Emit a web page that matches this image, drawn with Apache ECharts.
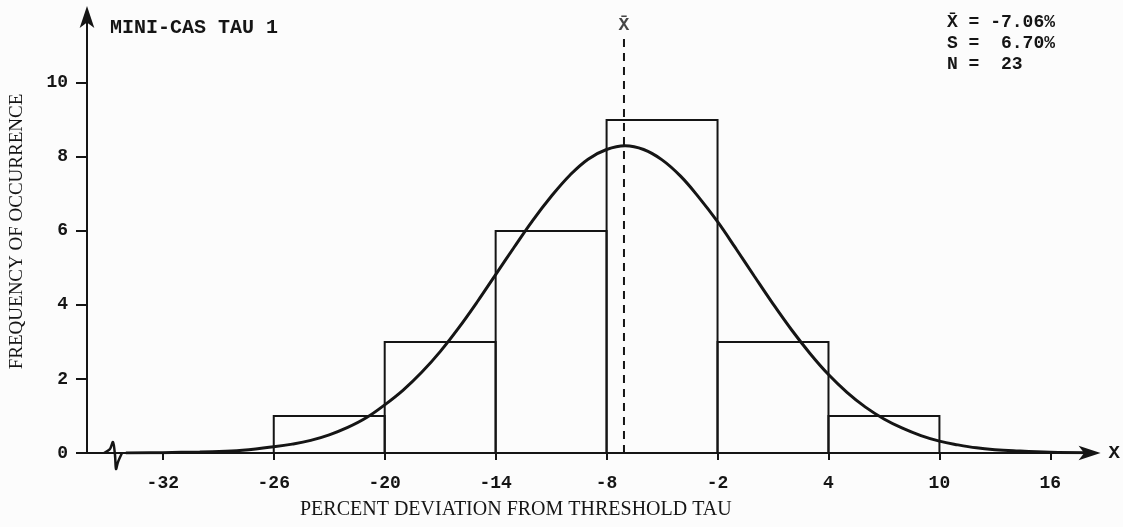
<!DOCTYPE html>
<html>
<head>
<meta charset="utf-8">
<script src="https://cdn.jsdelivr.net/npm/echarts@6/dist/echarts.min.js"></script>
<style>
html,body{margin:0;padding:0;background:#fcfcfc;}
#c{width:1123px;height:527px;}
</style>
</head>
<body>
<div id="c"></div>
<script>
// ---- data ----
const binStarts = [-26, -20, -14, -8, -2, 4];
const binEnds   = [-20, -14, -8, -2, 4, 10];
const counts    = [1, 3, 6, 9, 3, 1];

const curveX = [-34, -32, -30, -28, -26, -25, -24, -23, -22, -21, -20, -19, -18, -17, -16, -15, -14, -13, -12, -11, -10, -9, -8, -7, -6, -5, -4, -3, -2, -1, 0, 1, 2, 3, 4, 5, 6, 7, 8, 9, 10, 11, 12, 13, 14, 16, 18];
const curveY = [0.00, 0.01, 0.03, 0.06, 0.17, 0.24, 0.34, 0.49, 0.69, 0.95, 1.30, 1.70, 2.18, 2.74, 3.38, 4.08, 4.82, 5.56, 6.28, 6.93, 7.50, 7.94, 8.20, 8.30, 8.20, 7.92, 7.48, 6.90, 6.25, 5.52, 4.77, 4.03, 3.33, 2.69, 2.12, 1.64, 1.24, 0.92, 0.67, 0.47, 0.32, 0.22, 0.14, 0.09, 0.06, 0.02, 0.01];

const xTicks = [-32, -26, -20, -14, -8, -2, 4, 10, 16];
const yTicks = [0, 2, 4, 6, 8, 10];

const meanX = -7.06;
const meanLineTop = 11.2;
const meanLabelY = 11.55;

const titleText = 'MINI-CAS TAU 1';
const statLines = ['X\u0304 = -7.06%', 'S =  6.70%', 'N =  23'];
const xName = 'PERCENT DEVIATION FROM THRESHOLD TAU';
const yName = 'FREQUENCY OF OCCURRENCE';

// ---- chart ----
const ink = '#151515';
const mono = '"Liberation Mono", "DejaVu Sans Mono", monospace';
const serif = '"Liberation Serif", "DejaVu Serif", serif';

const chart = echarts.init(document.getElementById('c'), null, {renderer: 'canvas'});

const bins = binStarts.map((s, i) => [s, binEnds[i], counts[i]]);
const curve = curveX.map((x, i) => [x, curveY[i]]);

const option = {
  backgroundColor: '#fcfcfc',
  animation: false,
  grid: {left: 82, right: 23, top: 10, bottom: 74, containLabel: false},
  xAxis: {
    type: 'value',
    min: -36.1,
    max: 18.5,
    splitLine: {show: false},
    axisLine: {show: true, onZero: false, symbol: ['none', 'arrow'], symbolSize: [11, 22], symbolOffset: [0, 4],
      lineStyle: {color: ink, width: 2}},
    axisTick: {show: true, length: 7, customValues: xTicks, lineStyle: {color: ink, width: 2}},
    axisLabel: {show: true, customValues: xTicks, margin: 21, color: ink, fontFamily: mono, fontSize: 18, fontWeight: 'bold'},
    name: 'X',
    nameLocation: 'end',
    nameGap: 12,
    nameTextStyle: {color: ink, fontFamily: mono, fontSize: 19, fontWeight: 'bold', verticalAlign: 'middle'}
  },
  yAxis: {
    type: 'value',
    min: 0,
    max: 11.97,
    splitLine: {show: false},
    axisLine: {show: true, onZero: false, symbol: ['none', 'arrow'], symbolSize: [11, 22], symbolOffset: [0, 4],
      lineStyle: {color: ink, width: 2}},
    axisTick: {show: true, length: 11, customValues: yTicks, lineStyle: {color: ink, width: 2}},
    axisLabel: {show: true, customValues: yTicks, margin: 19, color: ink, fontFamily: mono, fontSize: 18, fontWeight: 'bold'},
    name: yName,
    nameLocation: 'middle',
    nameGap: 60,
    nameRotate: 90,
    nameTextStyle: {color: ink, fontFamily: serif, fontSize: 19}
  },
  series: [
    {
      type: 'custom',
      data: bins,
      renderItem: function (params, api) {
        const p0 = api.coord([api.value(0), 0]);
        const p1 = api.coord([api.value(1), api.value(2)]);
        return {
          type: 'rect',
          shape: {x: p0[0], y: p1[1], width: p1[0] - p0[0], height: p0[1] - p1[1]},
          style: {fill: 'none', stroke: ink, lineWidth: 2}
        };
      },
      z: 2
    },
    {
      type: 'line',
      data: curve,
      smooth: 0.4,
      showSymbol: false,
      symbol: 'none',
      lineStyle: {color: ink, width: 3},
      z: 3
    },
    {
      type: 'line',
      data: [[meanX, 0], [meanX, meanLineTop]],
      showSymbol: false,
      symbol: 'none',
      lineStyle: {color: ink, width: 2, type: [8, 6]},
      z: 4
    },
    {
      type: 'scatter',
      data: [[meanX, meanLabelY]],
      symbolSize: 0,
      label: {show: true, formatter: 'X\u0304', position: 'inside', color: ink, fontFamily: mono, fontSize: 18, fontWeight: 'bold'},
      z: 5
    }
  ],
  graphic: [
    {type: 'text', left: 110, top: 18, style: {text: titleText, fill: ink, font: 'bold 20px ' + mono}},
    {type: 'text', left: 947, top: 12, style: {text: statLines.join('\n'), fill: ink, font: 'bold 18px ' + mono, lineHeight: 21}},
    {type: 'text', left: 300, top: 500, style: {text: xName, fill: ink, font: '20px ' + serif}},
    {type: 'polyline', shape: {points: [[104, 453], [110, 449], [113, 442], [115, 455], [116, 469], [118, 462], [122, 453]], smooth: 0.3},
      style: {stroke: ink, lineWidth: 2.5, fill: 'none'}}
  ]
};
chart.setOption(option);
</script>
</body>
</html>
